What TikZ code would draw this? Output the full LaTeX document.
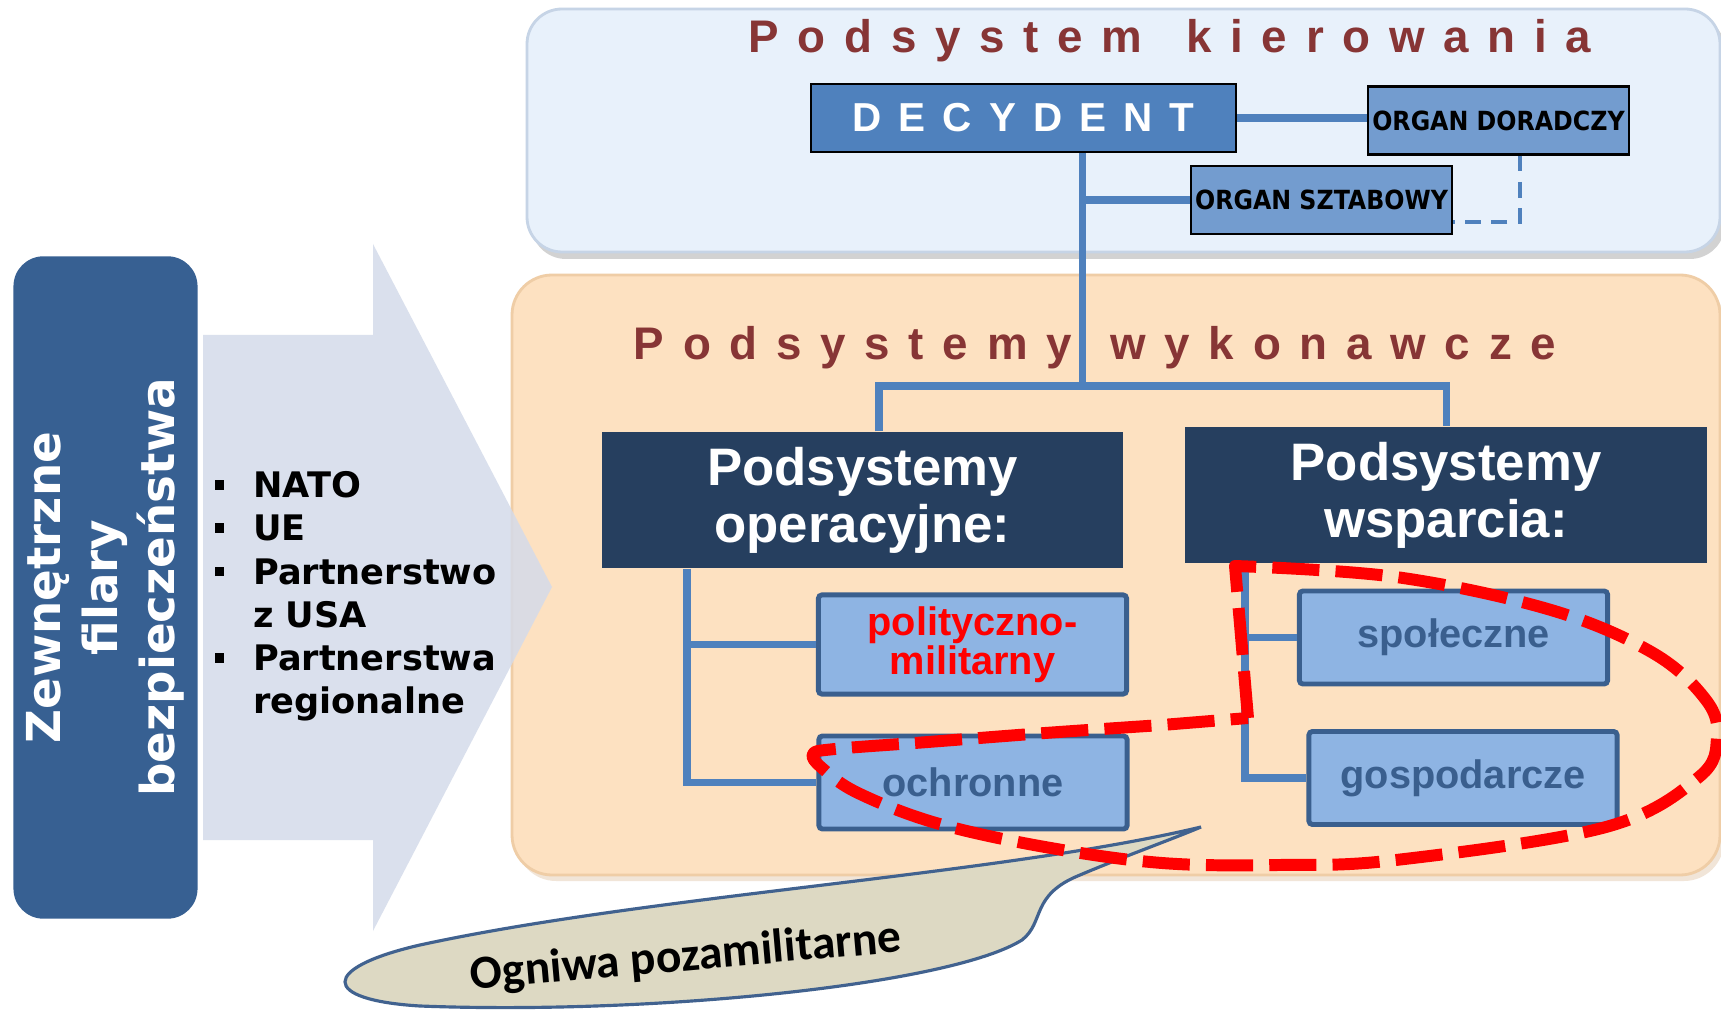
\documentclass[tikz,border=0pt]{standalone}
\usepackage{fontspec}
\setmainfont{Liberation Sans}
\newfontfamily\dejavu{DejaVu Sans}
\newfontfamily\condensed{DejaVu Sans Condensed}
\newfontfamily\carlito{Carlito}
\newfontfamily\tracked{Liberation Sans}[LetterSpace=41]
\newfontfamily\trackedwide{Liberation Sans}[LetterSpace=42]
\usetikzlibrary{positioning,calc}
\usepackage{xcolor}

\definecolor{panelblue}{HTML}{E8F1FB}
\definecolor{paneledge}{HTML}{C6D4E6}
\definecolor{panelpeach}{HTML}{FDE1C1}
\definecolor{peachedge}{HTML}{EFCDA6}
\definecolor{titlered}{HTML}{873535}
\definecolor{decblue}{HTML}{4F81BD}
\definecolor{organblue}{HTML}{739CCF}
\definecolor{navy}{HTML}{263F5F}
\definecolor{subblue}{HTML}{8EB4E3}
\definecolor{subedge}{HTML}{3A5F8E}
\definecolor{pillarblue}{HTML}{376092}
\definecolor{arrowgrey}{HTML}{D4DBEA}
\definecolor{bubble}{HTML}{DDD9C3}
\definecolor{bubbleedge}{HTML}{41628F}

\newcommand{\bul}{\makebox[10.95pt][l]{\rule[2.3pt]{2.7pt}{2.7pt}}}

\begin{document}
\begin{tikzpicture}[x=0.01cm, y=-0.01cm,
    conn/.style={draw=decblue, line width=2pt},
    dashlink/.style={draw=decblue, line width=1.1pt, dash pattern=on 4.5pt off 3pt},
    paneltitle/.style={font=\tracked\bfseries\fontsize{13}{15}\selectfont, text=titlered, inner sep=0pt, anchor=base},
    organ/.style={draw=black, line width=0.6pt, fill=organblue, minimum width=2.61cm, minimum height=0.68cm, inner sep=0pt, font=\condensed\bfseries\fontsize{7.5}{9}\selectfont},
    headbox/.style={fill=navy, text=white, minimum width=5.21cm, minimum height=1.36cm, align=center, font=\bfseries\fontsize{15}{16.2}\selectfont},
    subbox/.style={draw=subedge, line width=1.4pt, fill=subblue, rounded corners=1pt, minimum width=3.08cm, minimum height=0.93cm, text=subedge, align=center, font=\bfseries\fontsize{11.3}{11}\selectfont},
    redloop/.style={draw=red, line width=3.4pt, line join=round, dash pattern=on 13.4pt off 4.6pt}]
    \useasboundingbox (0,0) rectangle (1721,1010);
    \clip (0,0) rectangle (1721,1010);
    \fill[white] (0,0) rectangle (1721,1010);

    % Panels
    \fill[gray!70, opacity=0.5, rounded corners=0.35cm] (531,15) rectangle (1725,259);
    \draw[paneledge, fill=panelblue, line width=0.8pt, rounded corners=0.35cm] (527,9) rectangle (1720,252);
    \fill[brown!40, opacity=0.5, rounded corners=0.4cm] (516,281) rectangle (1724,881);
    \draw[peachedge, fill=panelpeach, line width=0.8pt, rounded corners=0.4cm] (512,275) rectangle (1720,875);

    % Arrow
    \fill[arrowgrey, fill opacity=0.85] (203,335) -- (373,335) -- (373,244) -- (552,587) -- (373,931) -- (373,840) -- (203,840) -- cycle;

    % External pillars
    \node[fill=pillarblue, rounded corners=0.3cm, rotate=90, minimum width=6.62cm, minimum height=1.84cm,
        text=white, align=center, font=\dejavu\bfseries\fontsize{13.3}{16.2}\selectfont] (pillar) at (105.5,587.5)
        {Zewnętrzne\\filary\\bezpieczeństwa};
    \node[anchor=base west, inner sep=0pt, font=\dejavu\bfseries\fontsize{10}{12.3}\selectfont] (allies) at (214,497.6) {%
        \begin{tabular}[t]{@{}l@{}l@{}}
        \bul & NATO\\
        \bul & UE\\
        \bul & Partnerstwo\\
             & z USA\\
        \bul & Partnerstwa\\
             & regionalne
        \end{tabular}};

    % Command subsystem
    \node[paneltitle] (ktitle) at (1170,53) {Podsystem\hspace{3.5pt} kierowania};
    \node[draw=black, line width=0.6pt, fill=decblue, minimum width=4.25cm, minimum height=0.68cm, inner sep=0pt,
        text=white, font=\trackedwide\bfseries\fontsize{11.5}{13}\selectfont] (decydent) at (1023.5,118) {DECYDENT};
    \node[organ] (doradczy) at (1498.5,120.5) {ORGAN DORADCZY};
    \node[organ] (sztabowy) at (1321.5,200) {ORGAN SZTABOWY};

    \coordinate (hub) at (1082.5,386);
    \coordinate (dashcorner) at (1520,222);
    \draw[conn] (decydent.east) -- (decydent.east -| doradczy.west);
    \draw[conn] (decydent.south -| hub) -- (hub);
    \draw[conn] (sztabowy.west -| hub) -- (sztabowy.west);
    \draw[dashlink] (doradczy.south -| dashcorner) -- (dashcorner) -- (dashcorner -| sztabowy.east);

    % Executive subsystems
    \node[paneltitle] (wtitle) at (1095,360) {Podsystemy\hspace{2pt} wykonawcze};
    \node[headbox] (opleft) at (862.5,500) {Podsystemy\\operacyjne:};
    \node[headbox] (opright) at (1446,495) {Podsystemy\\wsparcia:};

    \coordinate (busL) at (879,386);
    \coordinate (busR) at (1446,386);
    \draw[conn] (busL |- opleft.north) -- (busL) -- (busR) -- (busR |- opright.north);

    \node[subbox, text=red] (polit) at (972.5,644.5) {polityczno-\\militarny};
    \node[subbox] (ochr) at (973,782.5) {ochronne};
    \node[subbox] (spol) at (1453.5,637.5) {społeczne};
    \node[subbox] (gosp) at (1463,778) {gospodarcze};

    \coordinate (trunkL) at (687,0);
    \coordinate (trunkR) at (1245,0);
    \draw[conn] (opleft.south -| trunkL) -- (ochr.west -| trunkL) -- (ochr.west);
    \draw[conn] (polit.west -| trunkL) -- (polit.west);
    \draw[conn] (opright.south -| trunkR) -- (gosp.west -| trunkR) -- (gosp.west);
    \draw[conn] (spol.west -| trunkR) -- (spol.west);

    % Callout
    \draw[fill=bubble, draw=bubbleedge, line width=0.9pt] (1201,827)
        .. controls (1000,875) and (650,895) .. (420,945)
        .. controls (320,968) and (320,1000) .. (420,1006)
        .. controls (650,1015) and (950,985) .. (1022,940)
        .. controls (1045,922) and (1030,895) .. (1080,875)
        .. controls (1120,858) and (1170,840) .. (1201,827) -- cycle;
    \node[rotate=5, font=\carlito\bfseries\fontsize{13.5}{15}\selectfont] (calloutText) at (686,958) {Ogniwa pozamilitarne};

    % Non-military links
    \draw[redloop] (1248,718) -- (1235,566) -- plot[smooth, tension=0.6] coordinates {(1235,566) (1396,577) (1551,610)
        (1653,653) (1706,700) (1717,737) (1699,777) (1606,827) (1396,860) (1279,865) (1162,863) (1045,847) (936,823)
        (858,793) (822,768) (813,754) (835,749) (928,742) (1045,733) (1162,725)} -- cycle;
\end{tikzpicture}
\end{document}
